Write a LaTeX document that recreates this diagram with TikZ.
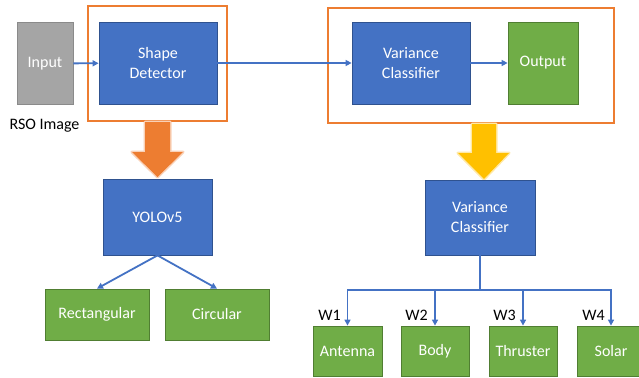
\documentclass[tikz,border=0pt]{standalone}
\usepackage{fontspec}
\setmainfont{Carlito}
\usetikzlibrary{arrows.meta}
\definecolor{cblue}{HTML}{4472C4}
\definecolor{cblueb}{HTML}{2F528F}
\definecolor{cgreen}{HTML}{70AD47}
\definecolor{cgreenb}{HTML}{507E32}
\definecolor{cgray}{HTML}{A5A5A5}
\definecolor{cgrayb}{HTML}{8A8A8A}
\definecolor{corange}{HTML}{ED7D31}
\definecolor{cyellow}{HTML}{FFC000}
\tikzset{
  box/.style={rectangle, draw, line width=0.8pt, text=white, align=center, inner sep=0pt,
    font=\fontsize{16}{20}\selectfont},
  bluebox/.style={box, fill=cblue, draw=cblueb},
  greenbox/.style={box, fill=cgreen, draw=cgreenb},
  graybox/.style={box, fill=cgray, draw=cgrayb},
  framebox/.style={rectangle, draw=corange, line width=2pt, inner sep=0pt},
  conn/.style={draw=cblue, line width=1.8pt, -{Triangle[length=6pt,width=6pt]}},
  wlab/.style={text=black, font=\fontsize{16}{20}\selectfont, inner sep=0pt},
}
\begin{document}
\begin{tikzpicture}[x=1pt,y=-1pt]
\useasboundingbox (0,0) rectangle (639,377);
\clip (0,0) rectangle (639,377);
\fill[white] (0,0) rectangle (639,377);
% frames
\node[framebox, minimum width=139pt, minimum height=115pt] (frame1) at (157.5,63.5) {};
\node[framebox, minimum width=286pt, minimum height=115pt] (frame2) at (471,65.5) {};
% top row
\node[graybox, minimum width=56pt, minimum height=82pt] (input) at (45,63.5) {Input};
\node[bluebox, minimum width=118pt, minimum height=82pt] (shape) at (158,63) {Shape\\Detector};
\node[bluebox, minimum width=118pt, minimum height=82pt] (vc) at (411,63) {Variance\\Classifier};
\node[greenbox, minimum width=70pt, minimum height=82pt] (output) at (543,63) {Output};
\node[wlab] (rso) at (44.5,125.5) {RSO Image};
\draw[conn] (input) -- (shape);
\draw[conn] (shape) -- (vc);
\draw[conn] (vc) -- (output);
% big arrows
\draw[draw=corange!35, line width=3pt, fill=corange, line join=round]
  (145,122) -- (170,122) -- (170,152) -- (183,152) -- (157.5,177) -- (132,152) -- (145,152) -- cycle;
\fill[corange] (145,122) -- (170,122) -- (170,152) -- (183,152) -- (157.5,177) -- (132,152) -- (145,152) -- cycle;
\draw[draw=cyellow!35, line width=3pt, fill=cyellow, line join=round]
  (472,124) -- (496,124) -- (496,153) -- (509,153) -- (484,179) -- (458,153) -- (472,153) -- cycle;
\fill[cyellow] (472,124) -- (496,124) -- (496,153) -- (509,153) -- (484,179) -- (458,153) -- (472,153) -- cycle;
% lower left
\node[bluebox, minimum width=109pt, minimum height=76pt] (yolo) at (157.5,217) {YOLOv5};
\node[greenbox, minimum width=104pt, minimum height=51pt] (rect) at (97,314.5) {Rectangular};
\node[greenbox, minimum width=104pt, minimum height=51pt] (circ) at (217,314.5) {Circular};
\draw[conn] (yolo.south) -- (rect.north);
\draw[conn] (yolo.south) -- (circ.north);
% lower right
\node[bluebox, minimum width=110pt, minimum height=75pt] (vc2) at (480,217.5) {Variance\\Classifier};
\node[greenbox, minimum width=69pt, minimum height=50pt] (ant) at (347.5,351) {Antenna};
\node[greenbox, minimum width=68pt, minimum height=50pt] (body) at (435,351) {Body};
\node[greenbox, minimum width=68pt, minimum height=50pt] (thr) at (523,351) {Thruster};
\node[greenbox, minimum width=68pt, minimum height=50pt] (sol) at (611,351) {Solar};
\coordinate (bus) at (480,290);
\draw[conn] (vc2.south) -- (bus) -| (ant.north);
\draw[conn] (bus) -| (body.north);
\draw[conn] (bus) -| (thr.north);
\draw[conn] (bus) -| (sol.north);
\node[wlab, anchor=east] (w1) at (341,315) {W1};
\node[wlab, anchor=east] (w2) at (428,315) {W2};
\node[wlab, anchor=east] (w3) at (516,315) {W3};
\node[wlab, anchor=east] (w4) at (605,315) {W4};
\end{tikzpicture}
\end{document}
